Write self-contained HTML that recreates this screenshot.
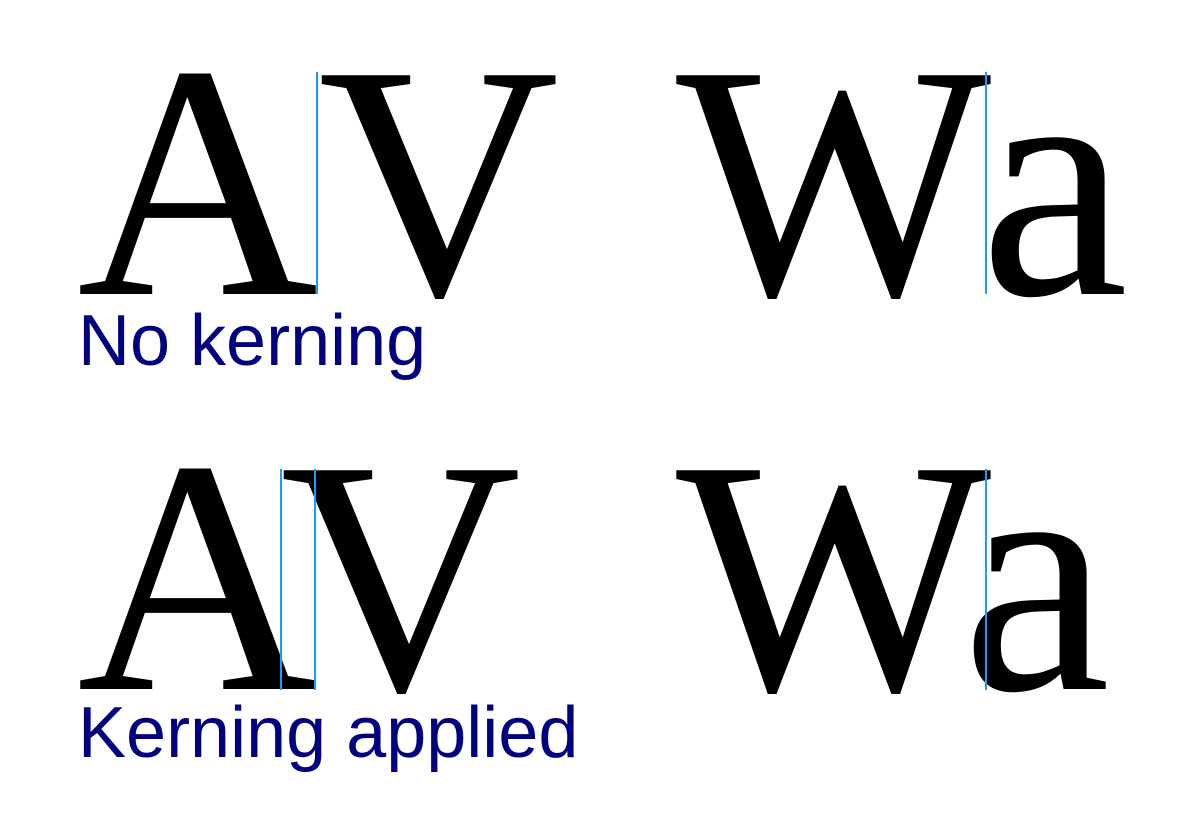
<!DOCTYPE html>
<html><head><style>body{margin:0;background:#fff}</style></head>
<body>
<svg width="1200" height="835" xmlns="http://www.w3.org/2000/svg">
<rect width="1200" height="835" fill="#fff"/>
<g font-family="'Liberation Serif', serif" font-size="334" fill="#000">
<text x="77" y="294">A</text>
<text x="318" y="294">V</text>
<text x="676" y="294">W</text>
<text x="980" y="294">a</text>
<text x="77" y="689">A</text>
<text x="280" y="689">V</text>
<text x="676" y="689">W</text>
<text x="962" y="689">a</text>
</g>
<g stroke="#1a9cff" stroke-width="2">
<line x1="317" y1="72" x2="317" y2="294"/>
<line x1="986" y1="72" x2="986" y2="294"/>
<line x1="281" y1="469" x2="281" y2="690"/>
<line x1="315" y1="469" x2="315" y2="690"/>
<line x1="986" y1="469" x2="986" y2="690"/>
</g>
<g font-family="'Liberation Sans', sans-serif" font-size="72" fill="#000080">
<text x="78" y="365">No kerning</text>
<text x="78" y="757">Kerning applied</text>
</g>
</svg>
</body></html>
